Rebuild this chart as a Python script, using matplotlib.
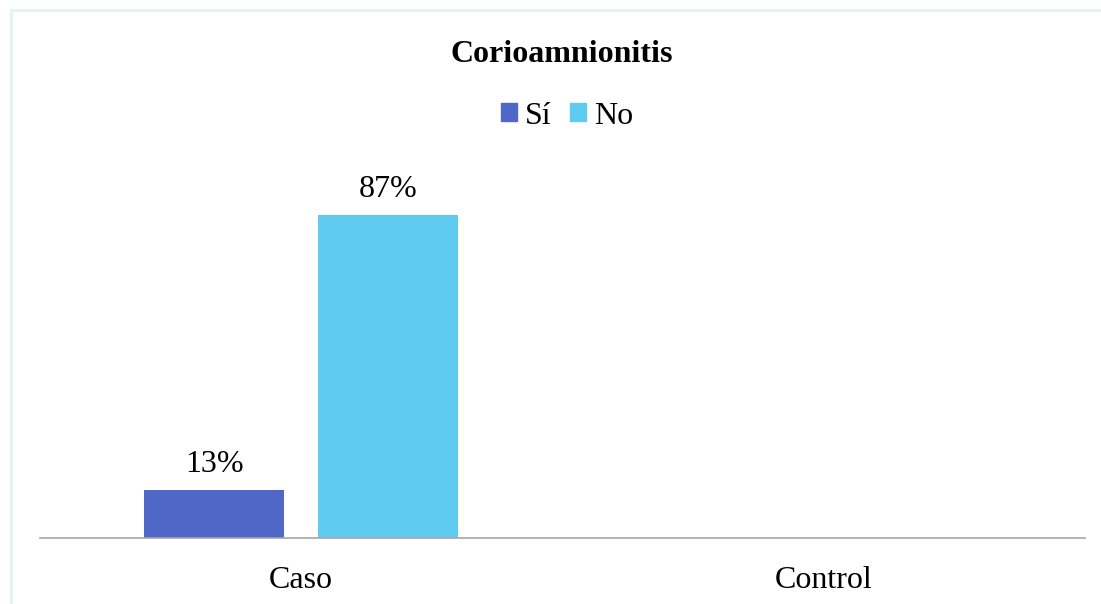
import matplotlib.pyplot as plt
import matplotlib.patches as mpatches
import numpy as np

# data
categories = ["Caso", "Control"]
si_values = [13, np.nan]
no_values = [87, np.nan]
series_names = ["Sí", "No"]
colors = ["#4F67C6", "#5FCBF1"]

plt.rcParams['font.family'] = ['Liberation Serif', 'DejaVu Serif']

W, H = 1101, 604
fig = plt.figure(figsize=(W / 100, H / 100), dpi=100)

# plot area in pixels: x 40..1085, baseline at y=538, 100% at 371 px above
ax = fig.add_axes([40 / W, (H - 538) / H, 1045 / W, 371 / H])

x = np.arange(len(categories))
width = 0.268
offset = 0.1665
b1 = ax.bar(x - offset, si_values, width, color=colors[0], label=series_names[0])
b2 = ax.bar(x + offset, no_values, width, color=colors[1], label=series_names[1])

for bars, vals in [(b1, si_values), (b2, no_values)]:
    labels = ["" if np.isnan(v) else f"{v:.0f}%" for v in vals]
    ax.bar_label(bars, labels=labels, padding=8, fontsize=23)

ax.set_xlim(-0.5, 1.5)
ax.set_ylim(0, 100)
ax.set_xticks(x)
ax.set_xticklabels(categories, fontsize=23)
ax.tick_params(axis='x', length=0, pad=20)
ax.set_yticks([])
for s in ['top', 'left', 'right']:
    ax.spines[s].set_visible(False)
ax.spines['bottom'].set_color('#A6A6A6')
ax.spines['bottom'].set_linewidth(1.2)

fig.text(562 / W, 1 - 54 / H, "Corioamnionitis", ha='center', va='center',
         fontsize=23, fontweight='bold')

handles = [mpatches.Patch(color=c) for c in colors]
fig.legend(handles, series_names, loc='center', bbox_to_anchor=(567 / W, 1 - 116 / H),
           ncol=2, frameon=False, fontsize=23, handlelength=0.5, handleheight=0.5,
           handletextpad=0.25, columnspacing=0.6)

# light chart border (only top and left edges fall inside the image)
fig.patches.append(mpatches.Rectangle((11 / W, -0.5), 1.5, 1.5 - 10 / H,
                                      transform=fig.transFigure, fill=False,
                                      edgecolor='#E0F4EE', linewidth=2))

fig.savefig("out.png", dpi=100)
